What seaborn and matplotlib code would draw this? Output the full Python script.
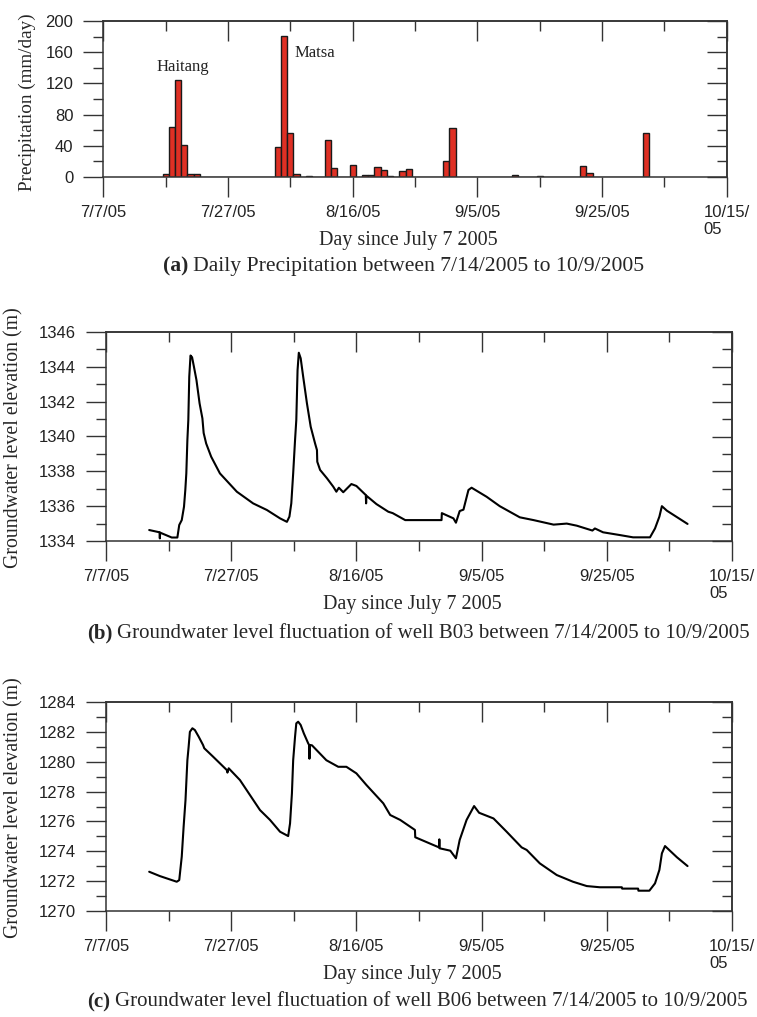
import matplotlib
matplotlib.use('Agg')
import matplotlib.pyplot as plt
import seaborn as sns

# all x values are days counted from 7/7/2005
tick_days = [0, 20, 40, 60, 80, 100]
tick_labels = ['7/7/05', '7/27/05', '8/16/05', '9/5/05', '9/25/05', '10/15/\n05']
minor_days = [10, 30, 50, 70, 90]

# daily precipitation (mm/day)
rain_day = [10, 11, 12, 13, 14, 15, 28, 29, 30, 31, 33, 36, 37, 40, 42, 43,
            44, 45, 46, 48, 49, 55, 56, 66, 70, 77, 78, 87]
rain_mm = [4, 64, 125, 41, 4, 4, 38, 181, 57, 4, 1.5, 47, 12, 16, 3, 3,
           13, 9, 1.5, 8, 10, 20, 63, 3, 1.5, 14.5, 4.7, 57]

# well B03 groundwater level (m)
b03_day = [6.9, 8.55, 8.6, 8.65, 10.5, 11.4, 11.7, 12.1, 12.46, 12.67, 12.83, 13.0,
           13.15, 13.3, 13.5, 13.75, 14.05, 14.45, 14.95, 15.4, 15.6, 16.0, 16.8,
           18.2, 20.9, 23.5, 25.7, 27.8, 28.9, 29.3, 29.6, 29.9, 30.2, 30.4, 30.6,
           30.8, 31.1, 31.5, 32.1, 32.7, 33.4, 33.7, 33.75, 34.2, 35.3, 36.3, 36.8,
           37.2, 37.9, 39.2, 40.0, 41.5, 41.55, 41.6, 43.2, 45.1, 45.8, 47.8, 53.6,
           53.65, 55.5, 55.9, 56.5, 57.1, 57.9, 58.4, 60.8, 62.9, 66.1, 68.3, 71.5,
           73.6, 75.2, 77.7, 78.1, 79.4, 82.1, 84.2, 86.9, 87.7, 88.4, 88.8, 89.6,
           92.9]
b03_level = [1334.63, 1334.5, 1334.15, 1334.48, 1334.2, 1334.2, 1334.92, 1335.2,
             1335.97, 1336.93, 1337.88, 1339.8, 1340.95, 1343.43, 1344.65, 1344.55,
             1344.0, 1343.24, 1341.9, 1341.04, 1340.2, 1339.6, 1338.84, 1337.88,
             1336.83, 1336.16, 1335.78, 1335.3, 1335.1, 1335.4, 1336.16, 1337.88,
             1339.8, 1340.95, 1343.81, 1344.81, 1344.49, 1343.43, 1341.9, 1340.56,
             1339.6, 1339.22, 1338.55, 1338.08, 1337.6, 1337.12, 1336.83, 1337.06,
             1336.8, 1337.27, 1337.16, 1336.64, 1336.16, 1336.6, 1336.12, 1335.68,
             1335.6, 1335.2, 1335.2, 1335.6, 1335.3, 1335.05, 1335.72, 1335.8,
             1336.93, 1337.06, 1336.54, 1336.0, 1335.36, 1335.2, 1334.94, 1335.0,
             1334.88, 1334.6, 1334.72, 1334.5, 1334.34, 1334.21, 1334.21, 1334.72,
             1335.4, 1336.0, 1335.74, 1334.98]

# well B06 groundwater level (m)
b06_day = [6.9, 8.6, 11.3, 11.7, 12.1, 12.4, 12.7, 12.9, 13.0, 13.2, 13.4, 13.8,
           14.2, 14.8, 15.5, 15.7, 17.1, 19.3, 19.4, 19.6, 21.4, 24.6, 26.2, 27.8,
           29.1, 29.4, 29.7, 29.9, 30.2, 30.4, 30.7, 31.1, 31.6, 32.3, 32.45, 32.5,
           32.55, 32.9, 35.2, 37.1, 38.4, 40.0, 41.6, 44.3, 45.4, 47.0, 49.35, 49.4,
           52.3, 53.2, 53.25, 53.3, 55.0, 55.9, 56.5, 57.6, 58.8, 59.6, 61.9, 64.0,
           66.4, 67.2, 69.3, 72.0, 74.6, 76.8, 78.9, 82.4, 82.45, 85.0, 85.05, 86.8,
           87.7, 88.4, 88.8, 89.3, 91.2, 92.9]
b06_level = [1272.63, 1272.34, 1271.96, 1272.07, 1273.64, 1275.65, 1277.43, 1279.22,
             1280.1, 1281.0, 1282.0, 1282.24, 1282.12, 1281.68, 1281.12, 1280.9,
             1280.34, 1279.44, 1279.27, 1279.56, 1278.77, 1276.76, 1276.1, 1275.31,
             1275.02, 1275.87, 1277.88, 1280.1, 1281.68, 1282.57, 1282.68, 1282.46,
             1281.9, 1281.23, 1281.12, 1280.2, 1281.12, 1281.1, 1280.1, 1279.66,
             1279.66, 1279.22, 1278.44, 1277.21, 1276.43, 1276.1, 1275.43, 1274.94,
             1274.42, 1274.26, 1274.8, 1274.2, 1274.04, 1273.53, 1274.76, 1276.1,
             1277.03, 1276.58, 1276.2, 1275.31, 1274.26, 1274.09, 1273.19, 1272.41,
             1271.96, 1271.67, 1271.59, 1271.59, 1271.5, 1271.5, 1271.36, 1271.36,
             1271.85, 1272.75, 1273.86, 1274.35, 1273.6, 1273.01]

sns.set_theme(style='ticks')
plt.rcParams['font.family'] = ['Liberation Sans', 'DejaVu Sans']
SERIF = ['Liberation Serif', 'DejaVu Serif']
EDGE = '#333333'

W, H = 757, 1017
fig = plt.figure(figsize=(W / 100, H / 100), dpi=100)


def px_axes(left, top, right, bottom):
    return fig.add_axes([left / W, 1 - bottom / H, (right - left) / W, (bottom - top) / H])


def style_axes(ax, ylim, ymajor, yminor):
    ax.set_xlim(0, 100)
    ax.set_ylim(*ylim)
    ax.set_xticks(tick_days)
    ax.set_xticklabels(tick_labels)
    ax.set_xticks(minor_days, minor=True)
    ax.set_yticks(ymajor)
    ax.set_yticks(yminor, minor=True)
    for lab in ax.get_xticklabels():
        lab.set_multialignment('left')
    ax.tick_params(which='both', direction='out', top=False, right=False,
                   color=EDGE, width=1.0, labelsize=12, labelcolor='#222222')
    ax.tick_params(which='major', length=14.5)
    ax.tick_params(which='minor', length=7.2)
    ax.tick_params(axis='x', which='major', pad=5.5)
    ax.tick_params(axis='y', which='major', pad=7)
    for s in ax.spines.values():
        s.set_color(EDGE)
        s.set_linewidth(1.1)
    # top and right ticks point inward
    top = ax.secondary_xaxis('top')
    top.set_xticks(tick_days)
    top.set_xticks(minor_days, minor=True)
    top.tick_params(which='both', direction='in', color=EDGE, width=1.0, labeltop=False)
    top.tick_params(which='major', length=14.5)
    top.tick_params(which='minor', length=7.2)
    right = ax.secondary_yaxis('right')
    right.set_yticks(ymajor)
    right.set_yticks(yminor, minor=True)
    right.tick_params(which='both', direction='in', color=EDGE, width=1.0, labelright=False)
    right.tick_params(which='major', length=14.5)
    right.tick_params(which='minor', length=7.2)
    for sec in (top, right):
        for s in sec.spines.values():
            s.set_color(EDGE)
            s.set_linewidth(1.1)
    ax.set_xlabel('')
    ax.set_ylabel('')


def caption(x, y, tag, rest, size):
    t = fig.text(x / W, 1 - y / H, tag, family=SERIF, weight='bold', fontsize=size, va='center')
    fig.canvas.draw()
    bb = t.get_window_extent()
    fig.text((bb.x1 + 5) / W, 1 - y / H, rest, family=SERIF, fontsize=size, va='center')


# (a) precipitation
ax1 = px_axes(103.3, 21, 726.7, 177)
sns.histplot(x=rain_day, weights=rain_mm, discrete=True, shrink=1.0, ax=ax1,
             color='#df3024', edgecolor='#1a1a1a', linewidth=1.0, alpha=1.0)
style_axes(ax1, (0, 200), [0, 40, 80, 120, 160, 200], [20, 60, 100, 140, 180])
ax1.text(12.8, 141, 'Haitang', family=SERIF, fontsize=12, ha='center', va='center', color='#222222')
ax1.text(30.75, 159, 'Matsa', family=SERIF, fontsize=12, ha='left', va='center', color='#222222')
fig.text(27 / W, 1 - 102 / H, 'Precipitation (mm/day)', family=SERIF, fontsize=13.8,
         rotation=90, ha='center', va='center')
fig.text(408 / W, 1 - 240 / H, 'Day since July 7 2005', family=SERIF, fontsize=14.5,
         ha='center', va='center')
caption(163, 266, '(a)', 'Daily Precipitation between 7/14/2005 to 10/9/2005', 15.6)

# (b) well B03
ax2 = px_axes(106, 332, 732, 541)
sns.lineplot(x=b03_day, y=b03_level, ax=ax2, color='black', linewidth=1.5,
             estimator=None, sort=False)
style_axes(ax2, (1334, 1346), list(range(1334, 1347, 2)), list(range(1335, 1346, 2)))
fig.text(14 / W, 1 - 438 / H, 'Groundwater level elevation (m)', family=SERIF, fontsize=14.3,
         rotation=90, ha='center', va='center')
fig.text(412 / W, 1 - 605 / H, 'Day since July 7 2005', family=SERIF, fontsize=14.5,
         ha='center', va='center')
caption(87, 633, '(b)', 'Groundwater level fluctuation of well B03 between 7/14/2005 to 10/9/2005', 15)

# (c) well B06
ax3 = px_axes(106, 702, 732, 911)
sns.lineplot(x=b06_day, y=b06_level, ax=ax3, color='black', linewidth=1.5,
             estimator=None, sort=False)
style_axes(ax3, (1270, 1284), list(range(1270, 1285, 2)), list(range(1271, 1284, 2)))
fig.text(14 / W, 1 - 808 / H, 'Groundwater level elevation (m)', family=SERIF, fontsize=14.3,
         rotation=90, ha='center', va='center')
fig.text(412 / W, 1 - 974 / H, 'Day since July 7 2005', family=SERIF, fontsize=14.5,
         ha='center', va='center')
caption(87, 1002, '(c)', 'Groundwater level fluctuation of well B06 between 7/14/2005 to 10/9/2005', 15)

fig.savefig('out.png', dpi=100)
